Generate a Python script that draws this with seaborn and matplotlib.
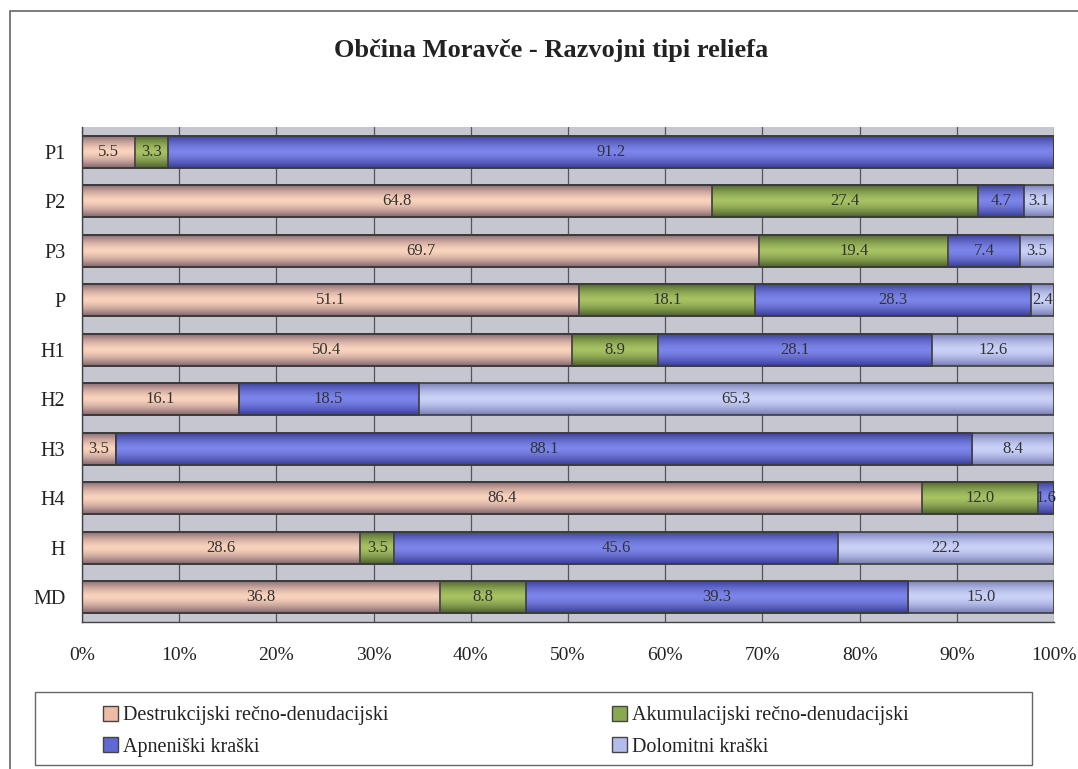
import numpy as np
import pandas as pd
import seaborn as sns
import matplotlib.pyplot as plt
from matplotlib.patches import Rectangle
from matplotlib.colors import to_rgb

categories = ["P1", "P2", "P3", "P", "H1", "H2", "H3", "H4", "H", "MD"]
series = ["Destrukcijski rečno-denudacijski", "Akumulacijski rečno-denudacijski",
          "Apneniški kraški", "Dolomitni kraški"]
destrukcijski = [5.5, 64.8, 69.7, 51.1, 50.4, 16.1, 3.5, 86.4, 28.6, 36.8]
akumulacijski = [3.3, 27.4, 19.4, 18.1, 8.9, 0.0, 0.0, 12.0, 3.5, 8.8]
apneniski = [91.2, 4.7, 7.4, 28.3, 28.1, 18.5, 88.1, 1.6, 45.6, 39.3]
dolomitni = [0.0, 3.1, 3.5, 2.4, 12.6, 65.3, 8.4, 0.0, 22.2, 15.0]
xticks = [0, 10, 20, 30, 40, 50, 60, 70, 80, 90, 100]
xtick_labels = [f"{t}%" for t in xticks]

# base, light centre, dark rim for the "cylinder" look
colors = {
    series[0]: ("#eebba4", "#fad3bd", "#84646f"),
    series[1]: ("#8aa84e", "#a6c262", "#4b602e"),
    series[2]: ("#6068d4", "#7c85ea", "#383c94"),
    series[3]: ("#b4bcee", "#cbd2f8", "#767cb4"),
}

sns.set_style("white")
plt.rcParams["font.family"] = ["Liberation Serif", "DejaVu Serif"]

vals = np.array([destrukcijski, akumulacijski, apneniski, dolomitni])
pct = vals / vals.sum(axis=0) * 100
cum = np.cumsum(pct, axis=0)

fig = plt.figure(figsize=(10.78, 7.69), dpi=100)
ax = fig.add_axes([82 / 1078, 1 - 622 / 769, 972 / 1078, 495 / 769])
ax.set_facecolor("#c6c6d0")

def shade(ax, patch, light, dark, z):
    x0, y0 = patch.get_x(), patch.get_y()
    w, h = patch.get_width(), patch.get_height()
    t = np.linspace(-1, 1, 64)
    k = (np.abs(t) ** 1.5)[:, None]
    grad = np.array(to_rgb(light))[None, :] * (1 - k) + np.array(to_rgb(dark))[None, :] * k
    img = ax.imshow(grad[:, None, :], extent=[x0, x0 + w, y0 + h, y0], aspect="auto",
                    zorder=z, interpolation="bilinear")
    img.set_clip_path(patch)

# stacked bars drawn as overlapping cumulative bars, longest first
for layer, j in enumerate([3, 2, 1, 0]):
    name = series[j]
    df = pd.DataFrame({"category": categories, "cum": cum[j]})
    sns.barplot(data=df, x="cum", y="category", order=categories, orient="h",
                color=colors[name][0], saturation=1, width=0.65,
                edgecolor="#3c3c3c", linewidth=1.2, ax=ax)
    for p in ax.containers[-1]:
        shade(ax, p, colors[name][1], colors[name][2], 1.2 + layer * 0.1)
        p.set_facecolor("none")
        p.set_zorder(2)

for i in range(len(categories)):
    start = 0
    for j in range(4):
        if vals[j, i] > 0:
            ax.text(start + pct[j, i] / 2, i, f"{vals[j, i]:.1f}", ha="center", va="center",
                    fontsize=12, color="#333333", zorder=5)
        start += pct[j, i]

ax.set_xlim(0, 100)
ax.set_ylim(len(categories) - 0.5, -0.5)
ax.set_xticks(xticks)
ax.set_xticklabels(xtick_labels, fontsize=14, color="#222222")
ax.set_yticks(range(len(categories)))
ax.set_yticklabels(categories, fontsize=14.5, color="#222222")
ax.set_yticks(np.arange(-0.5, len(categories)), minor=True)
ax.tick_params(axis="y", which="major", length=0, pad=12)
ax.tick_params(axis="y", which="minor", length=5, width=1, color="#444444", direction="out")
ax.tick_params(axis="x", which="major", length=6, width=1, color="#444444", direction="out", pad=12)
ax.set_xlabel("")
ax.set_ylabel("")
ax.set_axisbelow(True)
ax.grid(axis="x", color="#555555", linewidth=0.9)
for side in ["top", "right"]:
    ax.spines[side].set_visible(False)
for side in ["left", "bottom"]:
    ax.spines[side].set_color("#444444")
    ax.spines[side].set_linewidth(1)

fig.text(551 / 1078, 1 - 50 / 769, "Občina Moravče - Razvojni tipi reliefa",
         ha="center", va="center", fontsize=19, fontweight="bold", color="#222222")

# legend, two columns as two separate legends inside a drawn frame
def handle(name):
    return Rectangle((0, 0), 1, 1, facecolor=colors[name][0], edgecolor="#444444", linewidth=1)

for names, xpos in [([series[0], series[2]], 103), ([series[1], series[3]], 612)]:
    fig.legend([handle(n) for n in names], names, loc="upper left",
               bbox_to_anchor=(xpos / 1078, 1 - 706 / 769), frameon=False,
               fontsize=14.5, handlelength=0.75, handleheight=0.75, handletextpad=0.25,
               labelspacing=0.6, borderpad=0, borderaxespad=0, labelcolor="#222222")

fig.add_artist(Rectangle((35 / 1078, 1 - 765 / 769), 997 / 1078, 73 / 769,
                         transform=fig.transFigure, fill=False, edgecolor="#666666", linewidth=1))
fig.add_artist(Rectangle((10 / 1078, -0.05), 1.2, 1.05 - 11 / 769,
                         transform=fig.transFigure, fill=False, edgecolor="#666666", linewidth=1.2))

fig.savefig("out.png", dpi=100, facecolor="white")
